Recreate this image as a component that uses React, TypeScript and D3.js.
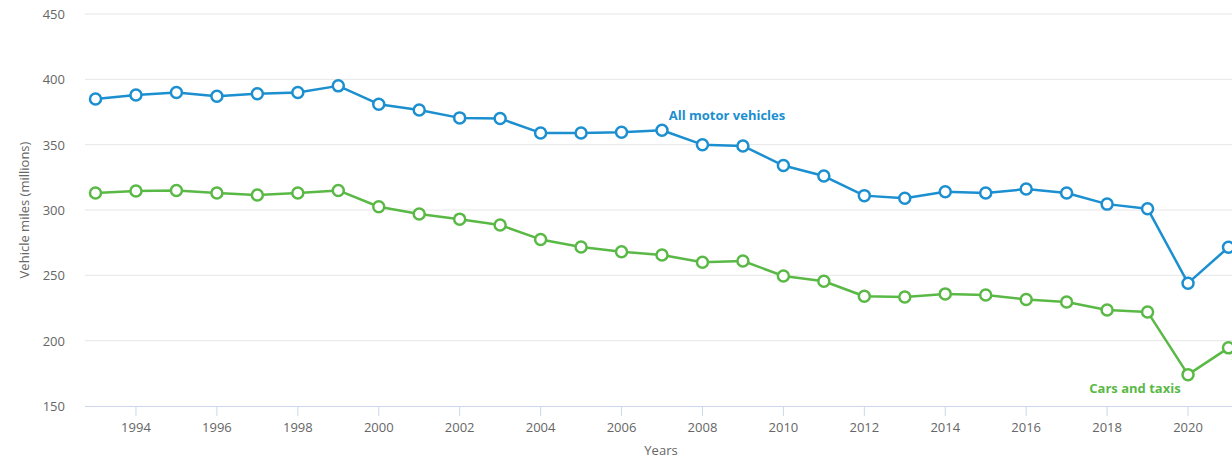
import { useMemo } from "react";
import * as d3 from "d3";

const YEARS = d3.range(1993, 2022);

const ALL_MOTOR = [
  385, 388, 390, 387, 389, 390, 395, 381, 376.5, 370.5, 370, 359, 359, 359.5, 361, 350, 349, 334,
  326, 311, 309, 314, 313, 316, 313, 304.5, 301, 244, 271.5,
];

const CARS_TAXIS = [
  313, 314.5, 315, 313, 311.5, 313, 315, 302.5, 297, 293, 288.5, 277.5, 271.7, 268, 265.6, 260,
  261, 249.5, 245.5, 234, 233.4, 235.8, 235, 231.5, 229.6, 223.5, 222, 174, 194.5,
];

const Y_TICKS = [150, 200, 250, 300, 350, 400, 450];
const X_TICKS = d3.range(1994, 2021, 2);

const BLUE = "#1b8fcf";
const GREEN = "#5ab946";
const FONT = "'Open Sans', 'DejaVu Sans', sans-serif";

const W = 1232;
const H = 460;

export default function App() {
  const x = useMemo(() => d3.scaleLinear().domain([1993, 2021]).range([95.5, 1228.5]), []);
  const y = useMemo(() => d3.scaleLinear().domain([150, 450]).range([406, 14]), []);

  const line = d3
    .line<number>()
    .x((_, i) => x(YEARS[i]))
    .y((d) => y(d));

  const series = [
    { values: ALL_MOTOR, color: BLUE },
    { values: CARS_TAXIS, color: GREEN },
  ];

  return (
    <svg
      width={W}
      height={H}
      style={{ position: "absolute", left: 0, top: 0, display: "block", background: "#fff" }}
      fontFamily={FONT}
    >
      {Y_TICKS.filter((t) => t > 150).map((t) => (
        <line key={t} x1={85} x2={W} y1={y(t)} y2={y(t)} stroke="#e6e6e6" strokeWidth={1} />
      ))}
      <line x1={85} x2={W} y1={y(150) + 0.5} y2={y(150) + 0.5} stroke="#ccd6eb" strokeWidth={1} />
      {X_TICKS.map((t) => (
        <g key={t}>
          <line x1={x(t)} x2={x(t)} y1={y(150)} y2={y(150) + 10} stroke="#ccd6eb" strokeWidth={1} />
          <text x={x(t)} y={y(150) + 26} textAnchor="middle" fontSize={13} fill="#666">
            {t}
          </text>
        </g>
      ))}
      {Y_TICKS.map((t) => (
        <text key={t} x={65} y={y(t) + 5} textAnchor="end" fontSize={13} fill="#666">
          {t}
        </text>
      ))}
      <text
        transform={`translate(29,${(y(150) + y(450)) / 2 + 0}) rotate(-90)`}
        textAnchor="middle"
        fontSize={13}
        fill="#666"
      >
        Vehicle miles (millions)
      </text>
      <text x={661} y={455} textAnchor="middle" fontSize={13} fill="#666">
        Years
      </text>

      {series.map((s) => (
        <g key={s.color}>
          <path d={line(s.values) ?? ""} fill="none" stroke={s.color} strokeWidth={2.5} strokeLinejoin="round" />
          {s.values.map((v, i) => (
            <circle
              key={i}
              cx={x(YEARS[i])}
              cy={y(v)}
              r={5.5}
              fill="#fff"
              stroke={s.color}
              strokeWidth={2.5}
            />
          ))}
        </g>
      ))}

      <text x={727} y={120} textAnchor="middle" fontSize={13} fontWeight="bold" fill={BLUE}>
        All motor vehicles
      </text>
      <text x={1135} y={393} textAnchor="middle" fontSize={13} fontWeight="bold" fill={GREEN}>
        Cars and taxis
      </text>
    </svg>
  );
}
